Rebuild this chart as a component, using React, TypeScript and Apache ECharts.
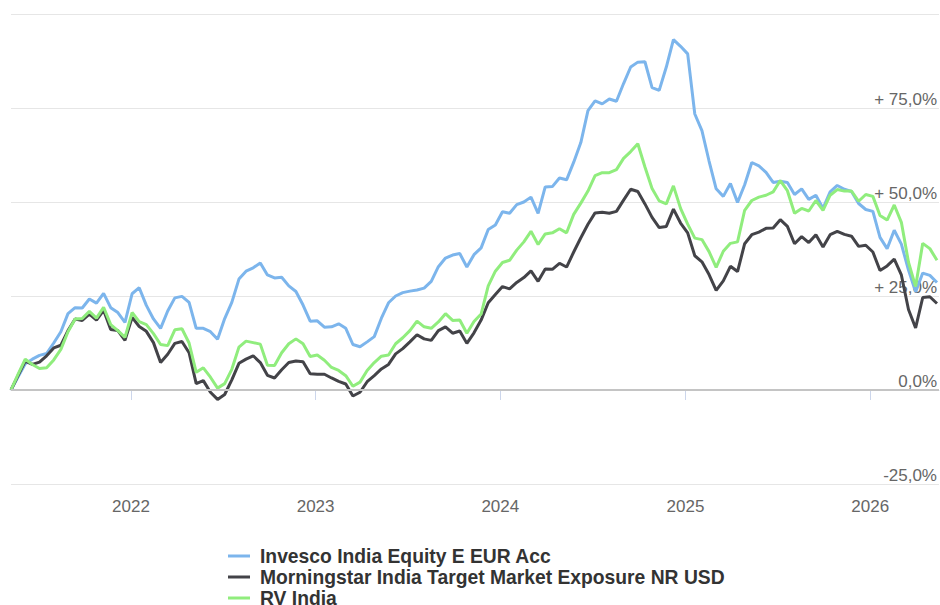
import React, { useEffect, useRef } from "react";
import * as echarts from "echarts";

const DAY = 86400000;
const AXIS_MIN = Date.UTC(2021, 4, 9);
const AXIS_MAX = Date.UTC(2026, 4, 17);
const STEP_DAYS = 14.077;
const POINTS = 131;
// sampling dates, roughly every two weeks
const dates: number[] = Array.from({ length: POINTS }, (_, i) => AXIS_MIN + i * STEP_DAYS * DAY);

const seriesNames = [
  "Invesco India Equity E EUR Acc",
  "Morningstar India Target Market Exposure NR USD",
  "RV India",
];
const seriesColors = ["#7cb5ec", "#434348", "#90ed7d"];

const invesco = [
  0, 3.5, 7.0, 8.2, 9.2, 9.7, 12.5, 15.5, 20.3, 21.9,
  21.8, 24.2, 23.1, 25.7, 21.9, 20.6, 18.0, 25.6, 27.2, 22.5,
  18.9, 16.4, 21.0, 24.5, 24.9, 23.3, 16.4, 16.4, 15.5, 13.5,
  19.0, 23.3, 29.5, 31.6, 32.5, 33.8, 30.6, 29.8, 30.0, 27.7,
  26.2, 22.6, 18.3, 18.4, 16.7, 16.8, 17.6, 16.4, 12.1, 11.5,
  12.8, 14.2, 19.1, 23.2, 25.0, 25.9, 26.3, 26.6, 27.1, 28.9,
  32.8, 35.1, 35.9, 36.3, 32.7, 36.0, 37.8, 42.7, 43.9, 47.4,
  47.0, 49.3, 50.0, 51.3, 47.0, 54.0, 54.1, 56.4, 55.9, 60.6,
  65.8, 74.3, 76.9, 76.1, 77.4, 76.8, 81.5, 85.9, 87.2, 87.3,
  80.4, 79.7, 85.9, 93.2, 91.4, 89.4, 73.4, 69.0, 60.9, 53.5,
  51.5, 54.9, 49.9, 54.6, 60.5, 59.6, 57.9, 55.2, 55.5, 55.2,
  52.0, 53.5, 50.7, 51.8, 48.3, 52.7, 54.4, 53.4, 52.8, 49.6,
  48.0, 47.5, 40.6, 37.6, 42.5, 38.8, 31.9, 26.1, 31.1, 30.5,
  28.6,
];

const morningstar = [
  0, 3.9, 7.7, 6.8, 7.4, 9.1, 11.2, 11.9, 15.8, 18.9,
  18.5, 20.2, 18.6, 21.2, 16.1, 15.8, 13.2, 19.3, 16.9, 15.6,
  12.6, 7.3, 9.5, 12.4, 12.9, 9.9, 1.7, 2.5, -0.6, -2.5,
  -1.2, 2.7, 7.1, 8.2, 9.1, 7.3, 3.9, 3.2, 5.4, 7.3,
  7.7, 7.5, 4.3, 4.2, 4.2, 3.2, 2.3, 1.6, -1.6, -0.6,
  2.2, 3.8, 5.6, 6.8, 9.6, 11.0, 12.8, 14.7, 13.6, 13.2,
  15.8, 16.8, 15.1, 15.7, 12.4, 15.2, 18.6, 23.2, 25.4, 27.5,
  26.9, 28.6, 29.9, 31.7, 28.9, 32.2, 32.1, 33.7, 32.7, 36.7,
  40.5, 44.1, 47.1, 47.3, 47.0, 47.5, 50.5, 53.4, 52.8, 49.5,
  45.9, 43.2, 43.5, 48.1, 44.4, 41.8, 35.7, 34.1, 30.7, 26.5,
  29.0, 32.9, 31.5, 38.9, 41.3, 42.0, 43.0, 43.1, 45.3, 43.5,
  38.9, 40.8, 39.2, 41.3, 38.0, 41.3, 42.2, 41.4, 40.9, 38.2,
  38.5, 36.7, 31.8, 33.0, 34.8, 30.6, 21.4, 16.5, 24.6, 24.8,
  23.0,
];

const rvIndia = [
  0, 4.2, 8.2, 6.8, 5.7, 5.9, 8.0, 10.8, 15.5, 18.9,
  19.0, 20.9, 19.1, 22.0, 17.4, 15.8, 14.0, 20.6, 18.2, 17.4,
  15.0, 12.1, 11.8, 16.0, 16.3, 12.5, 4.7, 5.9, 3.4, 0.5,
  1.7, 5.5, 11.4, 13.0, 12.6, 12.2, 6.6, 6.5, 9.9, 12.3,
  13.6, 12.3, 8.9, 9.3, 7.9, 6.0, 5.2, 3.8, 1.0, 2.1,
  5.2, 7.3, 9.0, 9.3, 12.3, 13.9, 15.8, 18.3, 16.8, 16.4,
  18.1, 20.3, 18.5, 18.6, 15.1, 18.2, 20.2, 27.7, 31.6, 33.9,
  34.5, 37.2, 39.4, 42.2, 38.7, 41.5, 41.8, 42.9, 41.8, 46.7,
  49.7, 52.9, 57.0, 57.8, 57.8, 58.6, 61.6, 63.4, 65.5, 59.3,
  53.6, 50.3, 49.5, 54.3, 48.3, 44.1, 40.4, 40.0, 36.8, 32.6,
  36.9, 39.0, 39.4, 47.8, 50.4, 51.3, 51.8, 52.7, 55.7, 53.0,
  47.0, 48.3, 47.6, 50.4, 47.8, 51.8, 53.3, 52.9, 52.9, 50.2,
  52.0, 51.5, 46.4, 45.2, 49.2, 44.6, 34.0, 27.5, 39.0, 37.6,
  34.5,
];

const yTicks = [-25, 0, 25, 50, 75, 100];
const yTickLabels = ["-25,0%", "0,0%", "+ 25,0%", "+ 50,0%", "+ 75,0%", ""];

const FONT = "'Liberation Sans', Arial, Helvetica, sans-serif";

export default function App() {
  const ref = useRef<HTMLDivElement>(null);
  useEffect(() => {
    document.body.style.margin = "0";
    if (!ref.current) return;
    const chart = echarts.init(ref.current, undefined, { renderer: "svg" });
    const values = [invesco, morningstar, rvIndia];
    const legendTop = 556;
    const legendRow = 21;
    const legendGraphics = seriesNames.flatMap((name, i) => [
      {
        type: "rect",
        shape: { x: 228, y: legendTop + i * legendRow - 1.5, width: 22, height: 3 },
        style: { fill: seriesColors[i] },
      },
      {
        type: "text",
        x: 260,
        y: legendTop + i * legendRow,
        style: {
          text: name,
          fill: "#333333",
          font: `bold 19.3px ${FONT}`,
          textVerticalAlign: "middle",
          verticalAlign: "middle",
        },
      },
    ]);
    chart.setOption({
      animation: false,
      textStyle: { fontFamily: FONT },
      grid: { left: 11, right: 0, top: 14, bottom: 121, containLabel: false },
      graphic: legendGraphics,
      xAxis: {
        type: "time",
        min: AXIS_MIN,
        max: AXIS_MAX,
        minInterval: 365 * DAY,
        maxInterval: 366 * DAY,
        splitLine: { show: false },
        axisLine: { show: true, lineStyle: { color: "#ccd6eb", width: 1 } },
        axisTick: { show: true, length: 10, lineStyle: { color: "#ccd6eb" } },
        axisLabel: {
          color: "#666666",
          fontSize: 17,
          margin: 14,
          showMinLabel: false,
          showMaxLabel: false,
          formatter: (v: number) => String(new Date(v).getUTCFullYear()),
        },
      },
      yAxis: {
        type: "value",
        position: "right",
        min: -25,
        max: 100,
        interval: 25,
        axisLine: { show: false },
        axisTick: { show: false },
        splitLine: { lineStyle: { color: "#e6e6e6", width: 1 } },
        axisLabel: {
          inside: true,
          margin: 2,
          color: "#666666",
          fontSize: 17,
          verticalAlign: "bottom",
          formatter: (v: number) => {
            const idx = yTicks.indexOf(v);
            return idx >= 0 ? yTickLabels[idx] : "";
          },
        },
      },
      series: seriesNames.map((name, s) => ({
        name,
        type: "line",
        showSymbol: false,
        symbol: "none",
        color: seriesColors[s],
        lineStyle: { width: 3, color: seriesColors[s] },
        data: dates.map((d, i) => [d, values[s][i]]),
        z: 2 + s,
        markLine:
          s === 0
            ? {
                silent: true,
                symbol: "none",
                label: { show: false },
                lineStyle: { color: "#c4c4c4", width: 2, type: "solid" },
                data: [{ yAxis: 0 }],
              }
            : undefined,
      })),
    });
    return () => chart.dispose();
  }, []);
  return <div ref={ref} style={{ width: 940, height: 605 }} />;
}
